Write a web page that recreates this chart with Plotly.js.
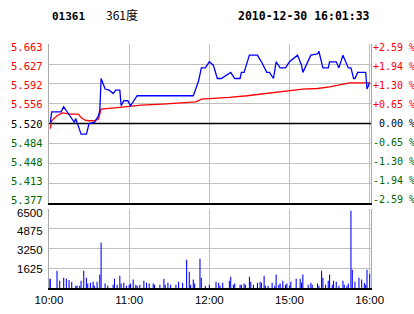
<!DOCTYPE html>
<html><head><meta charset="utf-8">
<script src="https://cdn.plot.ly/plotly-3.0.1.min.js"></script>
<style>html,body{margin:0;padding:0;background:#fff;}#chart{width:414px;height:314px;}</style>
</head><body><div id="chart"></div>
<script>
// ---- data (minutes since 10:00 on a trading-minute axis) ----
const stockCode = '01361';
const stockName = '361度';
const stamp = '2010-12-30 16:01:33';
const prevClose = 5.520;
const priceTicks = [5.377, 5.413, 5.448, 5.484, 5.520, 5.556, 5.592, 5.627, 5.663];
const pctLabels = ['-2.59', '-1.94', '-1.30', '-0.65', '0.00', '+0.65', '+1.30', '+1.94', '+2.59'];
const timeTickVals = [0, 60, 120, 180, 240];
const timeTickText = ['10:00', '11:00', '12:00', '15:00', '16:00'];
const volTicks = [1625, 3250, 4875, 6500];
const sessionSpan = [0, 241];

const priceT = [1,2,9,11,13,17,19,20,21,24,28,30,34,37,38,39,42,45,48,50,53,54,56,59,61,66,108,110,112,114,117,120,123,126,129,136,139,143,144,146,150,156,159,163,165,168,170,173,177,180,186,189,190,196,201,202,205,209,210,215,217,220,224,226,228,229,231,237,238,239,240];
const priceV = [5.522,5.541,5.541,5.550,5.543,5.528,5.522,5.529,5.522,5.501,5.501,5.520,5.522,5.534,5.543,5.601,5.582,5.580,5.574,5.580,5.580,5.552,5.561,5.561,5.552,5.570,5.570,5.585,5.597,5.620,5.620,5.631,5.625,5.601,5.601,5.612,5.601,5.601,5.612,5.612,5.643,5.643,5.631,5.612,5.612,5.601,5.631,5.620,5.620,5.631,5.643,5.625,5.612,5.643,5.645,5.650,5.620,5.620,5.631,5.631,5.620,5.643,5.620,5.620,5.601,5.601,5.612,5.612,5.582,5.588,5.594];

const avgT = [1,2,6,10,16,22,24,27,30,34,37,39,53,60,69,85,102,110,114,125,135,148,159,169,180,190,201,210,225,240];
const avgV = [5.511,5.525,5.534,5.539,5.537,5.537,5.531,5.526,5.525,5.525,5.528,5.546,5.549,5.551,5.553,5.555,5.558,5.559,5.564,5.565,5.567,5.570,5.573,5.576,5.578,5.582,5.583,5.586,5.593,5.593];

const volT = [0,1,6,8,11,13,15,17,20,21,23,24,26,28,29,31,33,34,36,38,39,42,44,48,49,51,53,54,56,58,60,61,63,65,66,68,71,73,75,78,79,83,86,87,89,91,95,97,100,103,105,106,108,109,113,114,117,120,125,127,128,130,135,136,138,139,143,144,146,147,150,151,153,156,158,159,161,162,164,167,169,170,172,173,175,177,178,180,181,185,188,189,190,194,196,197,201,202,204,205,207,209,210,212,213,215,217,220,221,223,224,226,227,229,232,234,236,237,238,240];
const volV = [770,770,1425,600,850,770,660,490,190,190,190,600,1425,850,360,440,520,190,520,1100,3730,360,190,270,770,270,1010,360,440,190,270,360,690,270,190,270,600,440,360,360,270,270,770,270,440,270,270,520,440,2330,1340,270,690,360,2410,850,190,270,520,440,190,440,600,930,270,360,270,270,360,270,930,520,270,440,520,440,1010,190,190,440,190,1100,270,360,600,270,360,190,520,770,770,440,1100,270,440,270,360,190,1425,850,270,600,1100,270,600,520,190,600,270,190,360,6360,1510,520,850,690,440,270,1510,1180];

// ---- styling ----
const RED = '#ff0000', GREEN = '#006600', BLUE = '#0000ff', GRID = '#c0c0c0';
const L = 49, R = 43, T = 44, B = 26, W = 414, H = 314;
const pw = W - L - R, ph = H - T - B;
const px2x = p => (p - L) / pw;
const py2y = p => (H - B - p) / ph;

const traces = [
  {x: sessionSpan, y: [prevClose, prevClose], xaxis: 'x2', yaxis: 'y', type: 'scatter', mode: 'lines', line: {color: '#000', width: 1.5}, hoverinfo: 'skip'},
  {x: avgT, y: avgV, xaxis: 'x2', yaxis: 'y', type: 'scatter', mode: 'lines', line: {color: RED, width: 1.3}, hoverinfo: 'skip'},
  {x: priceT, y: priceV, xaxis: 'x2', yaxis: 'y', type: 'scatter', mode: 'lines', line: {color: BLUE, width: 1.3}, hoverinfo: 'skip'},
  {x: volT, y: volV, xaxis: 'x', yaxis: 'y2', type: 'bar', width: 0.8, marker: {color: BLUE, line: {width: 0}}, hoverinfo: 'skip'}
];

const annotations = [];
priceTicks.forEach((v, i) => {
  const col = v > prevClose + 1e-9 ? RED : (v < prevClose - 1e-9 ? GREEN : '#000000');
  const shift = (4 - i) * 0.8;
  annotations.push({xref: 'paper', yref: 'y', x: 0, y: v, xanchor: 'right', yanchor: 'middle', xshift: -4, yshift: shift,
    text: v.toFixed(3), showarrow: false, font: {family: 'DejaVu Sans Mono', size: 10.5, color: col}});
  const lab = (pctLabels[i].startsWith('+') || pctLabels[i].startsWith('-')) ? pctLabels[i] : '\u00a0' + pctLabels[i];
  annotations.push({xref: 'paper', yref: 'y', x: 1, y: v, xanchor: 'left', yanchor: 'middle', xshift: 0, yshift: shift,
    text: lab + '\u00a0%', showarrow: false, font: {family: 'DejaVu Sans Mono', size: 10, color: col}});
});
const volShift = [-0.7, -1.7, -2.5, -4];
volTicks.forEach((v, i) => {
  annotations.push({xref: 'paper', yref: 'y2', x: 0, y: v, xanchor: 'right', yanchor: 'middle', xshift: -4, yshift: volShift[i],
    text: String(v), showarrow: false, font: {family: 'Liberation Sans, Arial', size: 11.5, color: '#000'}});
});
annotations.push({xref: 'paper', yref: 'paper', x: px2x(50), y: py2y(16), xanchor: 'left', yanchor: 'middle', text: '<b>' + stockCode + '</b>', showarrow: false, font: {family: 'DejaVu Sans Mono', size: 11, color: '#000'}});
annotations.push({xref: 'paper', yref: 'paper', x: px2x(104), y: py2y(15), xanchor: 'left', yanchor: 'middle', text: stockName, showarrow: false, font: {family: 'Noto Sans CJK SC', size: 12, color: '#000'}});
annotations.push({xref: 'paper', yref: 'paper', x: px2x(236), y: py2y(16), xanchor: 'left', yanchor: 'middle', text: '<b>' + stamp + '</b>', showarrow: false, font: {family: 'DejaVu Sans Mono', size: 11.5, color: '#000'}});

const layout = {
  width: W, height: H, margin: {l: L, r: R, t: T, b: B, pad: 0},
  paper_bgcolor: '#fff', plot_bgcolor: '#fff', showlegend: false,
  xaxis: {domain: [0, 1], anchor: 'y2', range: sessionSpan, tickvals: timeTickVals, ticktext: timeTickText,
    showgrid: true, gridcolor: GRID, gridwidth: 1, zeroline: false, showline: true, linecolor: '#000', linewidth: 2,
    ticks: '', tickfont: {family: 'Liberation Sans, Arial', size: 11.5, color: '#000'}, fixedrange: true},
  xaxis2: {domain: [0, 1], anchor: 'y', range: sessionSpan, tickvals: timeTickVals, showticklabels: false,
    showgrid: true, gridcolor: GRID, gridwidth: 1, zeroline: false, showline: true, linecolor: '#000', linewidth: 2, ticks: ''},
  yaxis: {domain: [0.348, 1], anchor: 'x2', range: [priceTicks[0], priceTicks[8]], tickvals: priceTicks, showticklabels: false,
    showgrid: true, gridcolor: GRID, zeroline: false, showline: true, mirror: true, linecolor: '#a8a8a8', linewidth: 1, ticks: ''},
  yaxis2: {domain: [0, 0.324], anchor: 'x', range: [0, 6500], tickvals: volTicks, showticklabels: false, showgrid: true, gridcolor: GRID,
    zeroline: false, showline: true, mirror: true, linecolor: '#a8a8a8', linewidth: 1, ticks: ''},
  annotations: annotations
};

Plotly.newPlot('chart', traces, layout, {staticPlot: true, displayModeBar: false});
</script></body></html>
